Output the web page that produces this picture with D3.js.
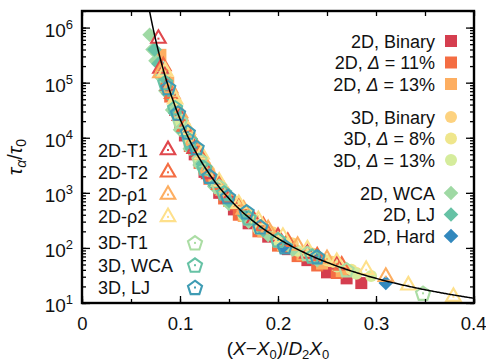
<!DOCTYPE html>
<html>
<head>
<meta charset="utf-8">
<script src="https://cdn.jsdelivr.net/npm/d3@7"></script>
<style>
  body { margin: 0; background: #fff; }
  text { font-family: "Liberation Sans", Arial, Helvetica, sans-serif; fill: #111; }
</style>
</head>
<body>
<svg id="chart" width="486" height="361"></svg>
<script>
// x = (X - X0) / D2 X0, y = tau_alpha / tau_0
const bin2dX = [0.095, 0.105, 0.115, 0.125, 0.14, 0.155, 0.17, 0.19, 0.21, 0.23, 0.25, 0.27, 0.285];
const bin2dY = [3.2e4, 1.1e4, 5.0e3, 2.4e3, 1.0e3, 5.0e2, 2.8e2, 1.6e2, 95, 60, 36, 28, 23];
const poly11X = [0.085, 0.09, 0.1, 0.11, 0.12, 0.13, 0.145, 0.16, 0.18, 0.2, 0.22, 0.24, 0.26];
const poly11Y = [1.1e5, 5.6e4, 1.8e4, 7.1e3, 3.5e3, 1.8e3, 7.9e2, 4.0e2, 2.0e2, 1.1e2, 71, 48, 35];
const poly13X = [0.08, 0.088, 0.095, 0.105, 0.115, 0.125, 0.135, 0.15, 0.165, 0.185, 0.205, 0.225, 0.245, 0.265];
const poly13Y = [3.2e5, 1.0e5, 4.0e4, 1.4e4, 6.3e3, 2.8e3, 1.6e3, 7.1e2, 3.8e2, 2.0e2, 1.1e2, 76, 52, 38];
const bin3dX = [0.09, 0.1, 0.11, 0.12, 0.13, 0.145, 0.16, 0.175, 0.195, 0.215, 0.235, 0.255, 0.28];
const bin3dY = [7.9e4, 2.5e4, 1.0e4, 5.0e3, 2.5e3, 1.1e3, 6.0e2, 3.5e2, 1.9e2, 1.2e2, 79, 56, 35];
const poly8X = [0.085, 0.095, 0.105, 0.115, 0.125, 0.14, 0.155, 0.17, 0.19, 0.21, 0.23, 0.25, 0.275];
const poly8Y = [1.6e5, 4.5e4, 1.6e4, 7.1e3, 3.3e3, 1.4e3, 7.1e2, 4.0e2, 2.1e2, 1.3e2, 85, 60, 40];
const poly3d13X = [0.1, 0.11, 0.12, 0.135, 0.15, 0.165, 0.18, 0.2, 0.22, 0.24, 0.26, 0.28, 0.295];
const poly3d13Y = [2.0e4, 7.9e3, 4.0e3, 1.4e3, 6.6e2, 3.8e2, 2.2e2, 1.3e2, 89, 63, 46, 34, 31];
const wcaX = [0.069, 0.072, 0.075, 0.08, 0.085, 0.092, 0.1, 0.11, 0.12, 0.135, 0.15, 0.17, 0.19, 0.215, 0.24];
const wcaY = [7.4e5, 4.0e5, 2.5e5, 1.3e5, 7.1e4, 3.2e4, 1.4e4, 6.3e3, 3.2e3, 1.3e3, 6.3e2, 3.0e2, 1.7e2, 93, 60];
const ljX = [0.074, 0.078, 0.083, 0.088, 0.095, 0.103, 0.112, 0.122, 0.135, 0.15, 0.165, 0.185];
const ljY = [4.0e5, 2.2e5, 1.3e5, 6.3e4, 2.8e4, 1.3e4, 6.3e3, 3.2e3, 1.4e3, 7.1e2, 4.0e2, 2.1e2];
const hardX = [0.205, 0.241, 0.31];
const hardY = [105, 69, 23];
const t1X = [0.078, 0.08, 0.088, 0.1, 0.115, 0.13, 0.15, 0.175, 0.2, 0.23, 0.26];
const t1Y = [6.3e5, 1.8e5, 8.9e4, 2.5e4, 6.3e3, 2.2e3, 7.9e2, 3.2e2, 1.6e2, 79, 50];
const t2X = [0.083, 0.092, 0.105, 0.12, 0.14, 0.16, 0.185, 0.21, 0.24, 0.265];
const t2Y = [2.0e5, 6.3e4, 1.6e4, 5.0e3, 1.4e3, 6.0e2, 2.5e2, 1.3e2, 71, 48];
const rho1X = [0.08, 0.09, 0.1, 0.113, 0.128, 0.145, 0.165, 0.19, 0.22, 0.25, 0.31];
const rho1Y = [1.5e5, 7.9e4, 2.8e4, 8.9e3, 2.8e3, 1.1e3, 5.0e2, 2.2e2, 1.1e2, 63, 30];
const rho2X = [0.085, 0.095, 0.108, 0.122, 0.14, 0.16, 0.18, 0.205, 0.23, 0.26, 0.29, 0.333, 0.379];
const rho2Y = [1.6e5, 5.0e4, 1.4e4, 5.0e3, 1.6e3, 6.3e2, 3.2e2, 1.6e2, 95, 56, 40, 21, 13];
const t13dX = [0.1, 0.12, 0.14, 0.17, 0.2, 0.23, 0.27, 0.348];
const t13dY = [2.0e4, 4.0e3, 1.3e3, 3.5e2, 1.4e2, 79, 40, 15];
const wca3dX = [0.085, 0.095, 0.11, 0.125, 0.145, 0.17, 0.2, 0.235];
const wca3dY = [1.0e5, 3.5e4, 8.9e3, 2.8e3, 1.0e3, 3.5e2, 1.4e2, 71];
const lj3dX = [0.088, 0.098, 0.108, 0.117, 0.13, 0.149, 0.168, 0.182, 0.207, 0.24];
const lj3dY = [8.1e4, 2.8e4, 1.26e4, 6.6e3, 2.0e3, 8.5e2, 4.5e2, 2.4e2, 1.05e2, 69];

const xTicks = [0, 0.1, 0.2, 0.3, 0.4];
const yTicks = [1e1, 1e2, 1e3, 1e4, 1e5, 1e6];

const series = [
  { name: '2D, Binary', x: bin2dX, y: bin2dY, shape: 'square', color: '#d53e4f', side: 'right' },
  { name: '2D, Δ = 11%', x: poly11X, y: poly11Y, shape: 'square', color: '#f46d43', side: 'right' },
  { name: '2D, Δ = 13%', x: poly13X, y: poly13Y, shape: 'square', color: '#fdae61', side: 'right' },
  { name: '3D, Binary', x: bin3dX, y: bin3dY, shape: 'circle', color: '#fdd27f', side: 'right', gap: true },
  { name: '3D, Δ = 8%', x: poly8X, y: poly8Y, shape: 'circle', color: '#efe68c', side: 'right' },
  { name: '3D, Δ = 13%', x: poly3d13X, y: poly3d13Y, shape: 'circle', color: '#d5ec9c', side: 'right' },
  { name: '2D, WCA', x: wcaX, y: wcaY, shape: 'diamond', color: '#9fd9a4', side: 'right', gap: true },
  { name: '2D, LJ', x: ljX, y: ljY, shape: 'diamond', color: '#66c2a5', side: 'right' },
  { name: '2D, Hard', x: hardX, y: hardY, shape: 'diamond', color: '#3288bd', side: 'right' },
  { name: '2D-T1', x: t1X, y: t1Y, shape: 'triangle', color: '#e0474c', side: 'left' },
  { name: '2D-T2', x: t2X, y: t2Y, shape: 'triangle', color: '#f46d43', side: 'left' },
  { name: '2D-ρ1', x: rho1X, y: rho1Y, shape: 'triangle', color: '#fdae61', side: 'left' },
  { name: '2D-ρ2', x: rho2X, y: rho2Y, shape: 'triangle', color: '#fee08b', side: 'left' },
  { name: '3D-T1', x: t13dX, y: t13dY, shape: 'pentagon', color: '#abdda4', side: 'left', gap: true },
  { name: '3D, WCA', x: wca3dX, y: wca3dY, shape: 'pentagon', color: '#66c2a5', side: 'left' },
  { name: '3D, LJ', x: lj3dX, y: lj3dY, shape: 'pentagon', color: '#3f9cb4', side: 'left' }
];

const margin = { top: 11, right: 12, bottom: 58, left: 82 };
const width = 486, height = 361;

const svg = d3.select('#chart');
const x = d3.scaleLinear().domain([0, 0.4]).range([margin.left, width - margin.right]);
const y = d3.scaleLog().domain([10, 2e6]).range([height - margin.bottom, margin.top]);

svg.append('defs').append('clipPath').attr('id', 'clip')
  .append('rect')
  .attr('x', x.range()[0]).attr('y', y.range()[1])
  .attr('width', x.range()[1] - x.range()[0])
  .attr('height', y.range()[0] - y.range()[1]);

function shapePath(shape) {
  if (shape === 'square') return 'M-6,-6H6V6H-6Z';
  if (shape === 'diamond') return 'M0,-7.3L7.3,0L0,7.3L-7.3,0Z';
  if (shape === 'circle') return d3.symbol(d3.symbolCircle, Math.PI * 6 * 6)();
  if (shape === 'triangle') {
    const s = 14.5, h = s * Math.sqrt(3) / 2;
    return `M0,${-h * 2 / 3}L${s / 2},${h / 3}L${-s / 2},${h / 3}Z`;
  }
  const pts = d3.range(5).map(i => {
    const a = -Math.PI / 2 + i * 2 * Math.PI / 5;
    return [7.4 * Math.cos(a), 7.4 * Math.sin(a) + 0.6];
  });
  return 'M' + pts.map(p => p.join(',')).join('L') + 'Z';
}

function drawMarker(g, s) {
  const open = s.shape === 'triangle' || s.shape === 'pentagon';
  g.append('path')
    .attr('d', shapePath(s.shape))
    .attr('fill', open ? 'none' : s.color)
    .attr('stroke', open ? s.color : 'none')
    .attr('stroke-width', 2.1)
    .attr('stroke-linejoin', 'miter');
  if (open) {
    g.append('rect').attr('x', -1).attr('y', -1).attr('width', 2).attr('height', 2)
      .attr('fill', s.color);
  }
}

// data markers
const plot = svg.append('g').attr('clip-path', 'url(#clip)');
series.forEach(s => {
  s.x.forEach((xv, i) => {
    const g = plot.append('g')
      .attr('transform', `translate(${x(xv)},${y(s.y[i])})`);
    drawMarker(g, s);
  });
});

// fit curve tau/tau0 = exp(1/x)
const fit = d3.range(0.066, 0.4005, 0.001);
plot.append('path')
  .datum(fit)
  .attr('fill', 'none')
  .attr('stroke', '#000')
  .attr('stroke-width', 1.5)
  .attr('d', d3.line().x(d => x(d)).y(d => y(Math.exp(1 / d))));

// axes (ticks inward, mirrored)
const xMinor = d3.range(0, 0.401, 0.05);
const yMinor = [];
for (let e = 1; e <= 6; e++) for (let m = 1; m < 10; m++) {
  const v = m * Math.pow(10, e);
  if (v <= 2e6) yMinor.push(v);
}
const [x0, x1] = x.range(), [y0, y1] = y.range();

svg.append('g').attr('transform', `translate(0,${y0})`)
  .call(d3.axisBottom(x).tickValues(xMinor).tickSizeInner(-4).tickSizeOuter(0).tickFormat(''))
  .call(g => g.select('.domain').remove());
svg.append('g').attr('transform', `translate(0,${y0})`)
  .call(d3.axisBottom(x).tickValues(xTicks).tickSizeInner(-7).tickSizeOuter(0).tickPadding(14)
    .tickFormat(d => d === 0 ? '0' : d3.format('.1f')(d)))
  .call(g => g.select('.domain').remove())
  .call(g => g.selectAll('text').attr('font-size', 18.5).attr('fill', '#111')
    .attr('font-family', '"Liberation Sans", Arial, sans-serif'))
  .call(g => g.selectAll('.tick').filter(d => d === 0.4).select('text')
    .attr('text-anchor', 'end').attr('x', 12));
svg.append('g').attr('transform', `translate(0,${y1})`)
  .call(d3.axisTop(x).tickValues(xMinor).tickSizeInner(-5).tickSizeOuter(0).tickFormat(''))
  .call(g => g.select('.domain').remove());

svg.append('g').attr('transform', `translate(${x0},0)`)
  .call(d3.axisLeft(y).tickValues(yMinor).tickSizeInner(-4).tickSizeOuter(0).tickFormat(''))
  .call(g => g.select('.domain').remove());
svg.append('g').attr('transform', `translate(${x0},0)`)
  .call(d3.axisLeft(y).tickValues(yTicks).tickSizeInner(-8).tickSizeOuter(0).tickFormat(''))
  .call(g => g.select('.domain').remove());
svg.append('g').attr('transform', `translate(${x1},0)`)
  .call(d3.axisRight(y).tickValues(yMinor).tickSizeInner(-4).tickSizeOuter(0).tickFormat(''))
  .call(g => g.select('.domain').remove());
svg.append('g').attr('transform', `translate(${x1},0)`)
  .call(d3.axisRight(y).tickValues(yTicks).tickSizeInner(-8).tickSizeOuter(0).tickFormat(''))
  .call(g => g.select('.domain').remove());
svg.selectAll('.tick line').attr('stroke', '#000').attr('stroke-width', 1.3);

// y tick labels 10^n
yTicks.forEach(v => {
  const t = svg.append('text')
    .attr('x', x0 - 9).attr('y', y(v) + 9)
    .attr('text-anchor', 'end')
    .attr('font-size', 19);
  t.append('tspan').text('10');
  t.append('tspan').attr('dy', -8).attr('font-size', 13).text(Math.round(Math.log10(v)));
});

// frame
svg.append('rect')
  .attr('x', x0).attr('y', y1)
  .attr('width', x1 - x0).attr('height', y0 - y1)
  .attr('fill', 'none').attr('stroke', '#000').attr('stroke-width', 2.4);

// axis titles
const yl = svg.append('text')
  .attr('transform', `translate(22,${(y0 + y1) / 2}) rotate(-90)`)
  .attr('text-anchor', 'middle')
  .attr('font-size', 20);
yl.append('tspan').attr('font-style', 'italic').text('τ');
yl.append('tspan').attr('font-style', 'italic').attr('font-size', 14).attr('dy', 4).text('α');
yl.append('tspan').attr('dy', -4).text('/');
yl.append('tspan').attr('font-style', 'italic').text('τ');
yl.append('tspan').attr('font-size', 14).attr('dy', 4).text('0');

const xl = svg.append('text')
  .attr('x', (x0 + x1) / 2).attr('y', 355)
  .attr('text-anchor', 'middle')
  .attr('font-size', 19);
xl.append('tspan').text('(');
xl.append('tspan').attr('font-style', 'italic').text('X');
xl.append('tspan').text('−');
xl.append('tspan').attr('font-style', 'italic').text('X');
xl.append('tspan').attr('font-size', 13).attr('dy', 4).text('0');
xl.append('tspan').attr('dy', -4).text(')/');
xl.append('tspan').attr('font-style', 'italic').text('D');
xl.append('tspan').attr('font-size', 13).attr('dy', 4).text('2');
xl.append('tspan').attr('dy', -4).attr('font-style', 'italic').text('X');
xl.append('tspan').attr('font-size', 13).attr('dy', 4).text('0');

// legends
function legendText(t, name) {
  const m = name.split('Δ');
  t.append('tspan').text(m[0]);
  if (m.length > 1) {
    t.append('tspan').attr('font-style', 'italic').text('Δ');
    t.append('tspan').text(m[1]);
  }
}

const rightRows = series.filter(s => s.side === 'right');
let ry = 41;
rightRows.forEach((s, i) => {
  if (i > 0) ry += s.gap ? 33 : 21.5;
  const t = svg.append('text')
    .attr('x', 435).attr('y', ry + 6.5)
    .attr('text-anchor', 'end')
    .attr('font-size', 18);
  legendText(t, s.name);
  drawMarker(svg.append('g').attr('transform', `translate(451,${ry})`), s);
});

const leftRows = series.filter(s => s.side === 'left');
let ly = 150;
leftRows.forEach((s, i) => {
  if (i > 0) ly += s.gap ? 26 : 22.3;
  const t = svg.append('text')
    .attr('x', 98).attr('y', ly + 6.5)
    .attr('font-size', 18);
  legendText(t, s.name);
  const mx = s.shape === 'pentagon' ? 195 : 168;
  drawMarker(svg.append('g').attr('transform', `translate(${mx},${ly})`), s);
});
</script>
</body>
</html>
